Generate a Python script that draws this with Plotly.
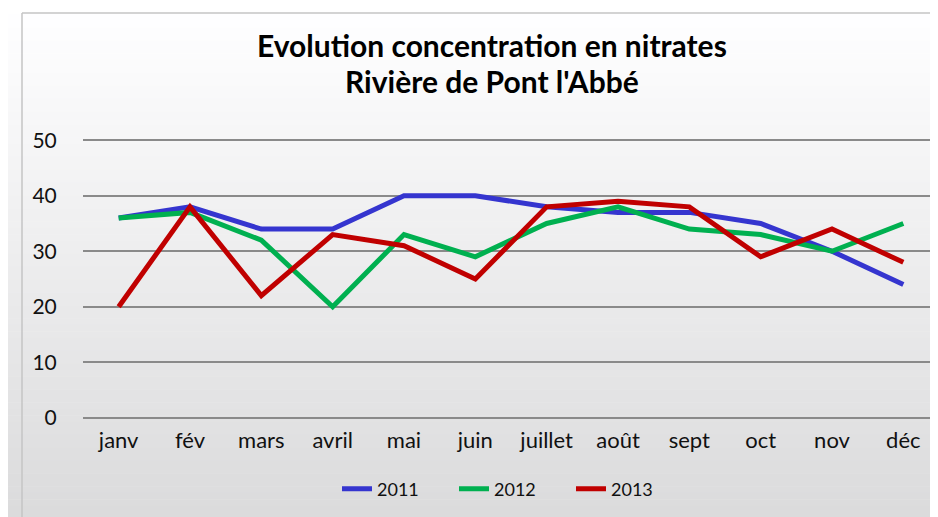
import plotly.graph_objects as go

months = ["janv", "fév", "mars", "avril", "mai", "juin", "juillet", "août", "sept", "oct", "nov", "déc"]
y2011 = [36, 38, 34, 34, 40, 40, 38, 37, 37, 35, 30, 24]
y2012 = [36, 37, 32, 20, 33, 29, 35, 38, 34, 33, 30, 35]
y2013 = [20, 38, 22, 33, 31, 25, 38, 39, 38, 29, 34, 28]
series_names = ["2011", "2012", "2013"]
colors = ["#3535CF", "#00B050", "#C00000"]
yticks = [0, 10, 20, 30, 40, 50]

W, H = 938, 517
L, R, T, B = 75, 7, 130, 105
PW, PH = W - L - R, H - T - B

def px_x(px):
    return (px - L) / PW

def px_y(py):
    return (H - B - py) / PH

fig = go.Figure()
for name, vals, col in zip(series_names, [y2011, y2012, y2013], colors):
    fig.add_trace(go.Scatter(x=months, y=vals, name=name, mode="lines",
                             line=dict(color=col, width=5)))

shapes = []
N = 80
for i in range(N):
    y0 = i * H / N
    y1 = (i + 1) * H / N + 0.5
    t = (i + 0.5) / N
    c = int(round(255 - t * (255 - 218)))
    shapes.append(dict(type="rect", xref="paper", yref="paper", layer="below",
                       x0=px_x(-2), x1=px_x(W + 2), y0=px_y(y1), y1=px_y(y0),
                       line=dict(width=0), fillcolor=f"rgb({c},{c},{c+1})"))
# border
shapes.append(dict(type="line", xref="paper", yref="paper", layer="below",
                   x0=px_x(14), x1=px_x(14), y0=px_y(5), y1=px_y(H + 2),
                   line=dict(color="#c4c4c4", width=1.5)))
shapes.append(dict(type="line", xref="paper", yref="paper", layer="below",
                   x0=px_x(14), x1=px_x(W + 2), y0=px_y(5), y1=px_y(5),
                   line=dict(color="#c4c4c4", width=1.5)))

font_family = "Lato, 'Open Sans', sans-serif"

fig.update_layout(
    width=W, height=H,
    margin=dict(l=L, r=R, t=T, b=B),
    paper_bgcolor="white",
    plot_bgcolor="rgba(0,0,0,0)",
    shapes=shapes,
    font=dict(family=font_family, size=20, color="#111111"),
    showlegend=True,
    legend=dict(orientation="h", x=px_x(329), y=px_y(481), xanchor="left", yanchor="middle",
                bgcolor="rgba(0,0,0,0)", font=dict(size=18), entrywidth=72, entrywidthmode="pixels",
                tracegroupgap=0),
    annotations=[
        dict(text="<b>Evolution concentration en nitrates</b>", x=px_x(484), y=px_y(37),
             xref="paper", yref="paper", showarrow=False, xanchor="center", yanchor="middle",
             font=dict(size=30, color="#000000", family=font_family)),
        dict(text="<b>Rivière de Pont l'Abbé</b>", x=px_x(484), y=px_y(73),
             xref="paper", yref="paper", showarrow=False, xanchor="center", yanchor="middle",
             font=dict(size=30, color="#000000", family=font_family)),
    ],
    xaxis=dict(range=[-0.5, len(months) - 0.5], showgrid=False, showline=False, zeroline=False,
               ticks="", ticklabelstandoff=5, tickfont=dict(size=22)),
    yaxis=dict(range=[-0.4, 50.4], tickvals=yticks, showgrid=True, gridcolor="#8a8a8a", gridwidth=1.5,
               zeroline=False, showline=False, ticks="outside", ticklen=21, tickcolor="rgba(0,0,0,0)",
               tickfont=dict(size=21)),
)

fig.write_html("out.html")
